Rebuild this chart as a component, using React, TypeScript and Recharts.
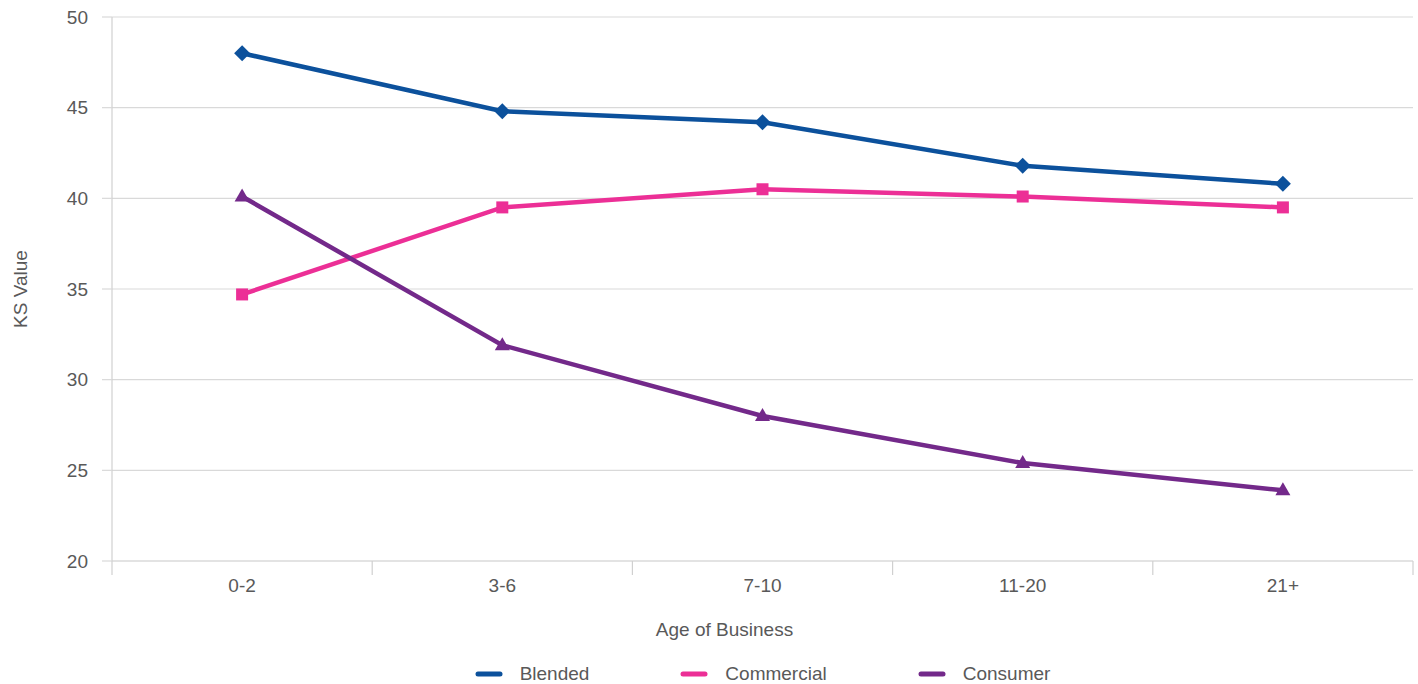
import React from 'react';
import { LineChart, Line, XAxis, YAxis, CartesianGrid, Legend } from 'recharts';

const categories = ['0-2', '3-6', '7-10', '11-20', '21+'];
const blended = [48.0, 44.8, 44.2, 41.8, 40.8];
const commercial = [34.7, 39.5, 40.5, 40.1, 39.5];
const consumer = [40.1, 31.9, 28.0, 25.4, 23.9];
const yTicks = [20, 25, 30, 35, 40, 45, 50];

const COLORS = { blended: '#0C519C', commercial: '#EC2F96', consumer: '#73298A' };
const FONT = '"Liberation Sans", Arial, sans-serif';
const FS = 19;
const TEXT = '#595959';
const GRID = '#d9d9d9';
const EDGE = '#d0d0d0';

const data = categories.map((c, i) => ({
  cat: c,
  Blended: blended[i],
  Commercial: commercial[i],
  Consumer: consumer[i],
}));

const Diamond = (p: any) => {
  const { cx, cy } = p;
  if (cx == null || cy == null) return null;
  const r = 8;
  return <path key={`d${p.index}`} d={`M${cx},${cy - r}L${cx + r},${cy}L${cx},${cy + r}L${cx - r},${cy}Z`} fill={COLORS.blended} />;
};
const Square = (p: any) => {
  const { cx, cy } = p;
  if (cx == null || cy == null) return null;
  const s = 6;
  return <rect key={`s${p.index}`} x={cx - s} y={cy - s} width={2 * s} height={2 * s} fill={COLORS.commercial} />;
};
const Triangle = (p: any) => {
  const { cx, cy } = p;
  if (cx == null || cy == null) return null;
  return <path key={`t${p.index}`} d={`M${cx},${cy - 8}L${cx + 7.5},${cy + 5}L${cx - 7.5},${cy + 5}Z`} fill={COLORS.consumer} />;
};

const CatTick = (p: any) => {
  const { x, y, payload, index, visibleTicksCount } = p;
  const half = payload && payload.offset ? payload.offset : 0;
  const lineTop = y - 18;
  const lineBottom = y - 4;
  const isLast = index === (visibleTicksCount ?? categories.length) - 1;
  return (
    <g>
      {half > 0 && <line x1={x - half} x2={x - half} y1={lineTop} y2={lineBottom} stroke={EDGE} strokeWidth={1.2} />}
      {half > 0 && isLast && <line x1={x + half} x2={x + half} y1={lineTop} y2={lineBottom} stroke={EDGE} strokeWidth={1.2} />}
      <text x={x} y={y} dy="0.71em" textAnchor="middle" fill={TEXT} fontSize={FS} fontFamily={FONT}>
        {payload.value}
      </text>
    </g>
  );
};

const legendItems = [
  { name: 'Blended', color: COLORS.blended },
  { name: 'Commercial', color: COLORS.commercial },
  { name: 'Consumer', color: COLORS.consumer },
];

const LegendContent = () => (
  <div
    style={{
      height: 30,
      boxSizing: 'border-box',
      paddingTop: 10,
      paddingLeft: 112,
      display: 'flex',
      justifyContent: 'center',
      alignItems: 'center',
      fontFamily: FONT,
      fontSize: FS,
      color: TEXT,
    }}
  >
    {legendItems.map((it, i) => (
      <div key={it.name} style={{ display: 'flex', alignItems: 'center', marginLeft: i === 0 ? 0 : 91, height: 20 }}>
        <svg width={28} height={8} style={{ display: 'block' }}>
          <line x1={3} y1={4} x2={25} y2={4} stroke={it.color} strokeWidth={5} strokeLinecap="round" />
        </svg>
        <span style={{ marginLeft: 17, lineHeight: '20px', whiteSpace: 'nowrap' }}>{it.name}</span>
      </div>
    ))}
  </div>
);

const YLabel = (props: any) => {
  const vb = props.viewBox;
  const x = vb.x + 20;
  const y = vb.y + vb.height / 2;
  return (
    <text x={x} y={y} transform={`rotate(-90 ${x} ${y})`} textAnchor="middle" dominantBaseline="central" fill={TEXT} fontSize={FS} fontFamily={FONT}>
      KS Value
    </text>
  );
};

export default function App() {
  return (
    <div style={{ position: 'absolute', left: 0, top: 0, width: 1418, height: 684, background: '#fff' }}>
      <LineChart width={1418} height={684} data={data} margin={{ top: 17, right: 5, left: 0, bottom: 0 }} style={{ fontFamily: FONT }}>
        <CartesianGrid horizontal vertical={false} stroke={GRID} strokeWidth={1.2} yAxisId="y" xAxisId="cat" />
        <XAxis
          xAxisId="cat"
          dataKey="cat"
          type="category"
          scale="band"
          height={93}
          tickLine={false}
          tickSize={6}
          tickMargin={12}
          axisLine={{ stroke: GRID, strokeWidth: 1.2 }}
          tick={<CatTick />}
          interval={0}
          label={{ value: 'Age of Business', position: 'insideBottom', offset: 18, dx: -38, fill: TEXT, fontSize: FS, fontFamily: FONT }}
        />
        <YAxis
          yAxisId="y"
          width={112}
          domain={[20, 50]}
          ticks={yTicks}
          allowDataOverflow
          tickSize={10}
          tickMargin={14}
          tickLine={{ stroke: GRID, strokeWidth: 1.2 }}
          axisLine={{ stroke: EDGE, strokeWidth: 1.2 }}
          tick={{ fill: TEXT, fontSize: FS, fontFamily: FONT }}
          label={{ content: YLabel }}
        />
        <Legend verticalAlign="bottom" content={<LegendContent />} />
        <Line xAxisId="cat" yAxisId="y" dataKey="Blended" stroke={COLORS.blended} strokeWidth={4.5} dot={Diamond} activeDot={false} isAnimationActive={false} />
        <Line xAxisId="cat" yAxisId="y" dataKey="Commercial" stroke={COLORS.commercial} strokeWidth={4.5} dot={Square} activeDot={false} isAnimationActive={false} />
        <Line xAxisId="cat" yAxisId="y" dataKey="Consumer" stroke={COLORS.consumer} strokeWidth={4.5} dot={Triangle} activeDot={false} isAnimationActive={false} />
      </LineChart>
    </div>
  );
}
